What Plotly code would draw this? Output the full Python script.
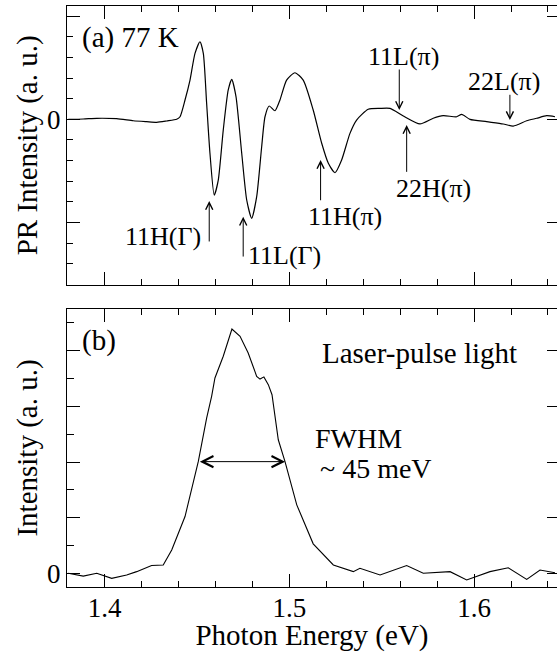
import plotly.graph_objects as go

# ---------------- data ----------------
pr_energy = [1.3803, 1.3884, 1.3957, 1.4065, 1.4155, 1.4227, 1.4282, 1.4336, 1.4390,
             1.4408, 1.4435, 1.4462, 1.4489, 1.4516, 1.4534, 1.4552, 1.4570, 1.4593,
             1.4615, 1.4642, 1.4669, 1.4688, 1.4711, 1.4742, 1.4769, 1.4796, 1.4823,
             1.4850, 1.4868, 1.4891, 1.4922, 1.4949, 1.4985, 1.5030, 1.5075, 1.5129,
             1.5175, 1.5211, 1.5247, 1.5283, 1.5328, 1.5364, 1.5427, 1.5491, 1.5545,
             1.5617, 1.5707, 1.5779, 1.5833, 1.5906, 1.5933, 1.5978, 1.6068, 1.6158,
             1.6212, 1.6285, 1.6339, 1.6393, 1.6438]
pr_signal = [0.000, 0.003, 0.010, 0.006, -0.014, -0.023, -0.029, -0.016, 0.000,
             0.025, 0.187, 0.380, 0.639, 0.751, 0.639, 0.155, -0.329, -0.733,
             -0.588, -0.104, 0.284, 0.387, 0.219, -0.329, -0.781, -0.958, -0.749,
             -0.265, 0.025, 0.129, 0.083, 0.187, 0.380, 0.451, 0.380, 0.090,
             -0.232, -0.426, -0.517, -0.394, -0.136, -0.007, 0.097, 0.106, 0.106,
             0.032, -0.045, 0.010, 0.035, 0.025, 0.048, 0.000, -0.023, -0.045,
             -0.065, -0.014, 0.010, 0.035, 0.025]

laser_energy = [1.3803, 1.3884, 1.3957, 1.4038, 1.4119, 1.4173, 1.4254, 1.4317, 1.4363,
                1.4435, 1.4507, 1.4552, 1.4579, 1.4597, 1.4642, 1.4689, 1.4733, 1.4777,
                1.4823, 1.4841, 1.4862, 1.4886, 1.4906, 1.4940, 1.4976, 1.5040, 1.5129,
                1.5211, 1.5238, 1.5346, 1.5382, 1.5491, 1.5635, 1.5725, 1.5870, 1.5960,
                1.6086, 1.6185, 1.6285, 1.6357, 1.6438]
laser_intensity = [0.00, -0.05, 0.00, -0.09, -0.03, 0.03, 0.14, 0.15, 0.42,
                   1.02, 2.01, 2.79, 3.18, 3.51, 3.90, 4.39, 4.26, 3.96,
                   3.54, 3.49, 3.53, 3.39, 3.21, 2.40, 2.01, 1.23, 0.53,
                   0.24, 0.15, 0.03, 0.09, -0.03, 0.14, 0.00, 0.03, -0.12,
                   0.03, 0.10, -0.11, 0.06, 0.01]

x_range = [1.3796, 1.6449]
pr_range = [-1.601, 1.097]
laser_range = [-0.246, 4.75]
x_tickvals = [1.4, 1.5, 1.6]
x_ticktext = ["1.4", "1.5", "1.6"]
pr_tickvals = [-1, 0, 1]
pr_ticktext = ["", "0", ""]
laser_tickvals = [0, 1, 2, 3, 4]
laser_ticktext = ["0", "", "", "", ""]

pr_labels = ["11H(Γ)", "11L(Γ)", "11H(π)", "11L(π)", "22H(π)", "22L(π)"]
pr_label_x = [1.4317, 1.4976, 1.5301, 1.5617, 1.5779, 1.6163]
pr_label_y = [-1.130, -1.314, -0.943, 0.613, -0.668, 0.371]
arrow_x = [1.4566, 1.4750, 1.5169, 1.5595, 1.5635, 1.6194]
arrow_tail_y = [-1.197, -1.343, -0.798, 0.497, -0.523, 0.252]
arrow_head_y = [-0.791, -0.943, -0.394, 0.090, -0.055, -0.007]

fwhm_x = [1.4507, 1.4977]
fwhm_y = 2.007

FONT = "'Liberation Serif', 'Times New Roman', Tinos, serif"

fig = go.Figure()
fig.add_trace(go.Scatter(x=pr_energy, y=pr_signal, mode="lines", xaxis="x", yaxis="y",
                         line=dict(color="black", width=1.2, shape="spline", smoothing=0.6),
                         showlegend=False, hoverinfo="skip"))
fig.add_trace(go.Scatter(x=laser_energy, y=laser_intensity, mode="lines", xaxis="x2", yaxis="y2",
                         line=dict(color="black", width=1.1),
                         showlegend=False, hoverinfo="skip"))
# dummy traces for right-hand major tick axes
fig.add_trace(go.Scatter(x=[None], y=[None], xaxis="x", yaxis="y3", showlegend=False, hoverinfo="skip"))
fig.add_trace(go.Scatter(x=[None], y=[None], xaxis="x2", yaxis="y4", showlegend=False, hoverinfo="skip"))

top_dom = [0.5203, 1.0]
bot_dom = [0.0, 0.4785]

xcommon = dict(range=x_range, tickvals=x_tickvals, ticktext=x_ticktext, ticks="inside",
               ticklen=13, tickwidth=1, tickcolor="black", showline=True, linecolor="black",
               linewidth=1, mirror="ticks", showgrid=False, zeroline=False, automargin=False,
               minor=dict(dtick=0.02, tick0=1.4, ticks="inside", ticklen=6, tickcolor="black",
                          showgrid=False),
               tickfont=dict(family=FONT, size=27, color="black"))

fig.update_layout(
    width=557, height=652,
    margin=dict(l=67, r=0, t=6, b=65),
    paper_bgcolor="white", plot_bgcolor="white",
    font=dict(family=FONT, color="black", size=27),
    xaxis=dict(xcommon, anchor="y", showticklabels=False),
    xaxis2=dict(xcommon, anchor="y2", showticklabels=True, ticklabelstandoff=-3,
                title=dict(text="Photon Energy (eV)", font=dict(family=FONT, size=29), standoff=0)),
    yaxis=dict(domain=top_dom, anchor="x", range=pr_range, tickvals=pr_tickvals, ticktext=pr_ticktext,
               ticks="inside", ticklen=13, tickcolor="black", showline=True, linecolor="black",
               linewidth=1, mirror=False, showgrid=False, zeroline=False, automargin=False,
               minor=dict(dtick=0.2, tick0=0, ticks="inside", ticklen=6, tickcolor="black", showgrid=False),
               tickfont=dict(family=FONT, size=27),
               title=dict(text="PR Intensity (a. u.)", font=dict(family=FONT, size=29), standoff=0)),
    yaxis2=dict(domain=bot_dom, anchor="x2", range=laser_range, tickvals=laser_tickvals,
                ticktext=laser_ticktext,
                ticks="inside", ticklen=13, tickcolor="black", showline=True, linecolor="black",
                linewidth=1, mirror=False, showgrid=False, zeroline=False, automargin=False,
                minor=dict(dtick=0.5, tick0=0, ticks="inside", ticklen=7, tickcolor="black", showgrid=False),
                tickfont=dict(family=FONT, size=27),
                title=dict(text="Intensity (a. u.)", font=dict(family=FONT, size=29), standoff=0)),
    yaxis3=dict(overlaying="y", side="right", anchor="x", range=pr_range, tickvals=pr_tickvals,
                showticklabels=False, ticks="inside", ticklen=10, tickcolor="black", automargin=False,
                showline=False, showgrid=False, zeroline=False),
    yaxis4=dict(overlaying="y2", side="right", anchor="x2", range=laser_range, tickvals=laser_tickvals,
                showticklabels=False, ticks="inside", ticklen=10, tickcolor="black", automargin=False,
                showline=False, showgrid=False, zeroline=False),
)

ann = []
ann.append(dict(x=x_range[0] + 0.007, y=0.79, xref="x", yref="y", text="(a) 77 K", showarrow=False,
                xanchor="left", yanchor="middle", font=dict(family=FONT, size=29)))
ann.append(dict(x=x_range[0] + 0.007, y=4.18, xref="x2", yref="y2", text="(b)", showarrow=False,
                xanchor="left", yanchor="middle", font=dict(family=FONT, size=29)))
ann.append(dict(x=1.5703, y=3.96, xref="x2", yref="y2", text="Laser-pulse light", showarrow=False,
                xanchor="center", yanchor="middle", font=dict(family=FONT, size=29)))
ann.append(dict(x=1.5126, y=2.42, xref="x2", yref="y2", text="FWHM", showarrow=False,
                xanchor="left", yanchor="middle", font=dict(family=FONT, size=28)))
ann.append(dict(x=1.5157, y=1.89, xref="x2", yref="y2", text="~ 45 meV", showarrow=False,
                xanchor="left", yanchor="middle", font=dict(family=FONT, size=28)))
for t, lx, ly in zip(pr_labels, pr_label_x, pr_label_y):
    ann.append(dict(x=lx, y=ly, xref="x", yref="y", text=t, showarrow=False,
                    xanchor="center", yanchor="middle", font=dict(family=FONT, size=26)))
for axp, ty, hy in zip(arrow_x, arrow_tail_y, arrow_head_y):
    ann.append(dict(x=axp, y=hy, ax=axp, ay=ty, xref="x", yref="y", axref="x", ayref="y",
                    text="", showarrow=True, arrowhead=5, arrowsize=1.4, arrowwidth=1,
                    arrowcolor="black", standoff=0, startstandoff=0))
ann.append(dict(x=fwhm_x[1], y=fwhm_y, ax=fwhm_x[0], ay=fwhm_y, xref="x2", yref="y2",
                axref="x2", ayref="y2", text="", showarrow=True, arrowhead=5, startarrowhead=5,
                arrowside="end+start", arrowsize=2.2, startarrowsize=2.2, arrowwidth=1,
                arrowcolor="black", standoff=0, startstandoff=0))
fig.update_layout(annotations=ann)

fig.write_html("out.html", config={"displayModeBar": False},
               post_script="document.body.style.margin='0';document.body.style.overflow='hidden';")
